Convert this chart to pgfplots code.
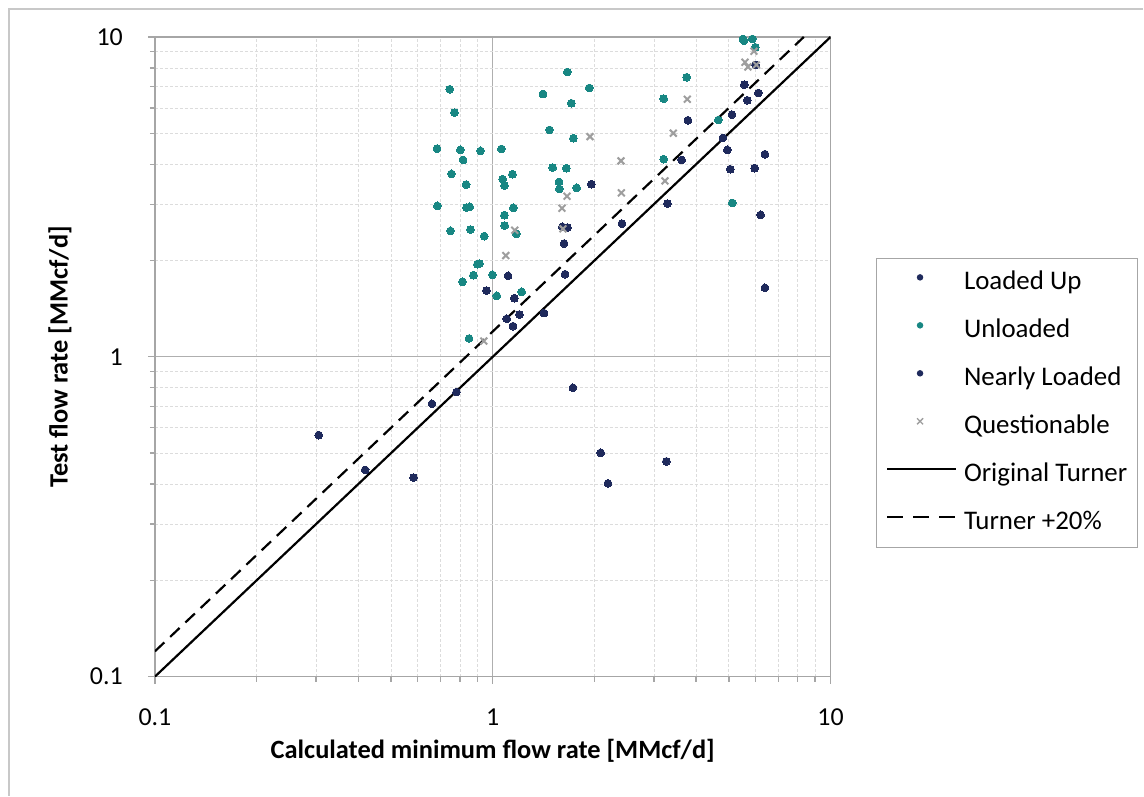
\documentclass[border=0pt]{standalone}
\usepackage{fontspec}
\setmainfont{Carlito}
\usepackage{pgfplots}
\pgfplotsset{compat=1.18}
\definecolor{navy}{RGB}{31,42,92}
\definecolor{tealc}{RGB}{24,135,131}
\definecolor{crossg}{RGB}{158,158,158}
\definecolor{gridmaj}{RGB}{175,175,175}
\definecolor{gridmin}{RGB}{220,220,220}
\definecolor{axisg}{RGB}{166,166,166}
\definecolor{frameg}{RGB}{200,200,200}
\begin{document}
\begin{tikzpicture}[x=1bp,y=1bp]
\path (0,0) rectangle (1144,796);
\draw[frameg, line width=1.2bp] (9,0) -- (9,787) -- (1144,787);
\begin{axis}[
  at={(155bp,119bp)}, anchor=south west,
  scale only axis, width=676bp, height=640bp,
  xmode=log, ymode=log,
  xmin=0.1, xmax=10, ymin=0.1, ymax=10,
  xtick={0.1,1,10}, ytick={0.1,1,10},
  xticklabels={0.1,1,10}, yticklabels={0.1,1,10},
  tick pos=left,
  axis line style={axisg, line width=1.3bp},
  tick style={axisg, line width=1.3bp},
  tick align=outside, major tick length=7bp, minor tick length=5bp,
  grid=both,
  major grid style={gridmaj, line width=0.9bp, solid},
  minor grid style={gridmin, line width=0.8bp, dash pattern=on 3bp off 2bp},
  tick label style={font=\fontsize{26}{30}\selectfont},
  xticklabel style={anchor=center, inner sep=0pt, yshift=-34bp},
  yticklabel style={anchor=east, inner sep=0pt, xshift=-25bp},
  label style={font=\fontsize{26.5}{30}\selectfont\bfseries},
  xlabel={Calculated minimum flow rate [MMcf/d]},
  ylabel={Test flow rate [MMcf/d]},
  xlabel style={at={(axis description cs:0.5,-0.1156)}, anchor=center},
  ylabel style={at={(axis description cs:-0.1405,0.5)}, anchor=center},
  legend style={at={(1.0666,0.4273)}, anchor=west, draw=axisg, line width=1bp,
    font=\fontsize{27}{31}\selectfont, inner xsep=10bp, inner ysep=13bp,
    row sep=25bp,
    nodes={inner sep=0pt, text height=18bp, text depth=5bp, line width=1bp}},
  legend cell align=left,
  /tikz/every even column/.append style={column sep=0bp},
  /tikz/every odd column/.append style={column sep=7bp},
]
% Loaded Up
\addplot[only marks, mark=*, mark size=3.9bp, mark options={fill=navy, draw=navy, line width=0pt},
  legend image code/.code={\path (0bp,0bp) (69bp,0bp); \fill[navy] (33bp,6bp) circle (2.7bp);}]
coordinates {
(1.959,3.465) (1.608,2.548) (1.663,2.535) (1.626,2.260) (1.637,1.813)
(1.110,1.791) (0.958,1.611) (1.159,1.525) (1.199,1.356) (1.100,1.315)
(1.148,1.247) (5.556,7.094) (6.001,8.177) (6.112,6.683) (5.670,6.340)
(5.106,5.719) (4.948,4.436) (5.050,3.860) (5.960,3.888) (6.393,4.300)
(3.625,4.127) (6.208,2.778) (6.393,1.643) (1.728,0.800) (0.3055,0.569)
(0.583,0.419) (2.087,0.501) (2.193,0.402) (3.266,0.471)
};
\addlegendentry{Loaded Up}
% Unloaded
\addplot[only marks, mark=*, mark size=3.9bp, mark options={fill=tealc, draw=tealc, line width=0pt},
  legend image code/.code={\path (0bp,0bp) (69bp,0bp); \fill[tealc] (33bp,6bp) circle (2.7bp);}]
coordinates {
(0.746,6.865) (1.409,6.635) (1.932,6.928) (1.709,6.206) (0.770,5.800)
(1.472,5.122) (1.733,4.825) (0.684,4.477) (0.802,4.436) (0.920,4.404)
(1.061,4.467) (0.817,4.127) (1.505,3.905) (1.652,3.888) (0.755,3.732)
(1.070,3.592) (1.144,3.723) (1.571,3.523) (0.834,3.455) (1.083,3.430)
(1.575,3.350) (1.772,3.374) (0.686,2.964) (0.836,2.928) (0.855,2.943)
(1.151,2.922) (1.083,2.772) (1.085,2.572) (0.750,2.476) (0.859,2.499)
(0.943,2.384) (1.175,2.424) (0.901,1.949) (0.913,1.957) (0.877,1.800)
(0.998,1.804) (0.814,1.716) (1.028,1.551) (1.218,1.596) (0.851,1.141)
(1.663,7.773) (3.750,7.483) (3.206,6.414) (3.206,4.148) (4.655,5.503)
(5.120,3.028) (5.503,9.857) (5.541,9.736) (5.868,9.857) (5.989,9.286)
};
\addlegendentry{Unloaded}
% Nearly Loaded
\addplot[only marks, mark=*, mark size=3.9bp, mark options={fill=navy, draw=navy, line width=0pt},
  legend image code/.code={\path (0bp,0bp) (69bp,0bp); \fill[navy] (33bp,6bp) circle (2.7bp);}]
coordinates {
(2.413,2.609) (1.418,1.370) (4.802,4.835) (3.288,3.013) (0.781,0.776)
(0.661,0.713) (0.419,0.443) (3.783,5.492)
};
\addlegendentry{Nearly Loaded}
% Questionable
\addplot[only marks, mark=x, mark size=4.8bp, mark options={draw=crossg, line width=2bp},
  legend image code/.code={\path (0bp,0bp) (69bp,0bp); \draw[crossg, line width=1.4bp] (30bp,3bp) -- (36bp,9bp) (30bp,9bp) -- (36bp,3bp);}]
coordinates {
(1.941,4.880) (2.397,4.098) (2.403,3.255) (1.659,3.178) (1.603,2.915)
(1.162,2.488) (1.614,2.512) (1.093,2.073) (0.941,1.120) (5.932,9.022)
(5.579,8.337) (5.694,8.058) (6.030,8.177) (3.767,6.386) (3.424,5.002)
(3.235,3.548)
};
\addlegendentry{Questionable}
% Original Turner
\addplot[black, line width=2.2bp,
  legend image code/.code={\draw[black, line width=2bp] (0bp,6bp) -- (69bp,6bp);}]
coordinates {(0.1,0.1) (10,10)};
\addlegendentry{Original Turner}
% Turner +20%
\addplot[black, line width=2.2bp, dash pattern=on 13bp off 8bp,
  legend image code/.code={\draw[black, line width=2bp, dash pattern=on 16bp off 10bp] (0bp,6bp) -- (69bp,6bp);}]
coordinates {(0.1,0.12) (8.333,10)};
\addlegendentry{Turner +20\%}
\end{axis}
\end{tikzpicture}
\end{document}
